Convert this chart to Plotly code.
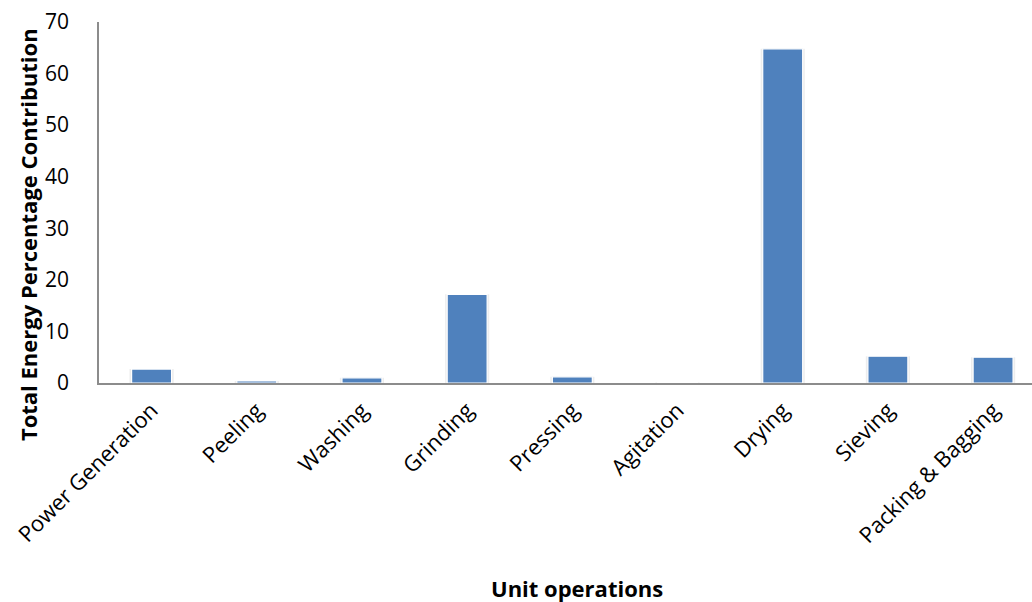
import plotly.graph_objects as go

# Share of total energy use by unit operation (%)
operations = ["Power Generation", "Peeling", "Washing", "Grinding", "Pressing",
              "Agitation", "Drying", "Sieving", "Packing & Bagging"]
energy_share = [2.7, 0.4, 1.0, 17.2, 1.2, 0.1, 64.8, 5.2, 5.0]

y_ticks = [0, 10, 20, 30, 40, 50, 60, 70]

BAR_BLUE = "#4F81BD"
AXIS_GRAY = "#8C8C8C"
FONT = "'Open Sans', Arial, sans-serif"

fig = go.Figure()

# soft drop shadow behind each bar
fig.add_trace(go.Bar(
    x=operations, y=energy_share, width=0.42, offset=-0.21,
    marker=dict(color="rgba(0,0,0,0.07)", line=dict(width=0)),
    hoverinfo="skip", showlegend=False,
))
# main bars with thin white outline
fig.add_trace(go.Bar(
    x=operations, y=energy_share, width=0.38,
    marker=dict(color=BAR_BLUE, line=dict(color="white", width=1.2)),
    showlegend=False,
))

fig.update_layout(
    width=1032, height=602,
    margin=dict(l=99, r=0, t=22, b=219),
    plot_bgcolor="white", paper_bgcolor="white",
    barmode="overlay",
    font=dict(family=FONT, size=20, color="black"),
    xaxis=dict(
        range=[-0.5, 8.37],
        showline=True, linecolor=AXIS_GRAY, linewidth=1.5,
        showgrid=False, ticks="", tickangle=-45,
        tickfont=dict(size=22), ticklabelstandoff=4,
    ),
    yaxis=dict(
        range=[0, 70], tickvals=y_ticks,
        showline=True, linecolor=AXIS_GRAY, linewidth=1.5,
        showgrid=False, zeroline=False, ticks="",
        tickfont=dict(size=21), ticklabelstandoff=24,
    ),
    annotations=[
        dict(text="<b>Total Energy Percentage Contribution</b>",
             xref="paper", yref="paper", x=-0.076, y=0.41,
             xanchor="center", yanchor="middle", textangle=-90,
             showarrow=False, font=dict(size=22, family=FONT)),
        dict(text="<b>Unit operations</b>",
             xref="paper", yref="paper", x=0.512, y=-0.568,
             xanchor="center", yanchor="middle",
             showarrow=False, font=dict(size=22, family=FONT)),
    ],
)

fig.write_html("out.html")
